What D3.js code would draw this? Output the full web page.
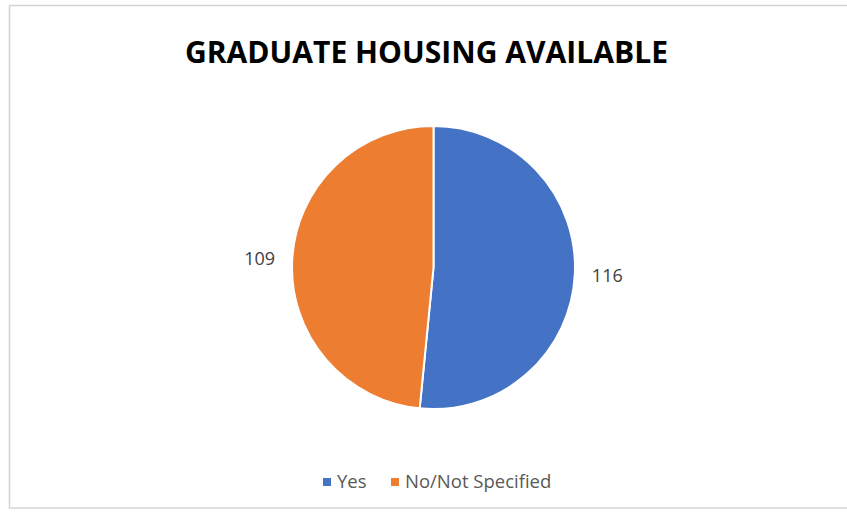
<!DOCTYPE html>
<html><head><meta charset="utf-8">
<script src="https://cdn.jsdelivr.net/npm/d3@7"></script>
<style>body{margin:0;background:#fff;}svg{display:block;}</style>
</head><body>
<svg id="chart" width="847" height="512"></svg>
<script>
const title = "GRADUATE HOUSING AVAILABLE";
const categories = ["Yes", "No/Not Specified"];
const values = [116, 109];
const colors = ["#4472C4", "#ED7D31"];

const svg = d3.select("#chart");
svg.append("rect").attr("x", 9.5).attr("y", 5.5).attr("width", 860).attr("height", 502.5)
  .attr("fill", "#fff").attr("stroke", "#d4d4d4").attr("stroke-width", 1.5);

svg.append("text").attr("x", 426.5).attr("y", 63).attr("text-anchor", "middle")
  .attr("font-family", "'Open Sans', sans-serif").attr("font-weight", 700)
  .attr("font-size", 31).attr("fill", "#000")
  .attr("textLength", 483).attr("lengthAdjust", "spacingAndGlyphs")
  .text(title);

const cx = 433.5, cy = 267.5, r = 141.5;
const pie = d3.pie().sort(null).value(d => d)(values);
const arc = d3.arc().innerRadius(0).outerRadius(r);
const g = svg.append("g").attr("transform", `translate(${cx},${cy})`);
g.selectAll("path").data(pie).join("path")
  .attr("d", arc).attr("fill", (d, i) => colors[i])
  .attr("stroke", "#fff").attr("stroke-width", 2);

const labelArc = d3.arc().innerRadius(174).outerRadius(174);
g.selectAll("text.lbl").data(pie).join("text").attr("class", "lbl")
  .attr("x", d => labelArc.centroid(d)[0])
  .attr("y", d => labelArc.centroid(d)[1])
  .attr("dy", "0.35em").attr("text-anchor", "middle")
  .attr("font-family", "'Open Sans', sans-serif").attr("font-size", 18).attr("fill", "#404040")
  .text(d => d.data);

const legend = svg.append("g").attr("font-family", "'Open Sans', sans-serif").attr("font-size", 18.5).attr("fill", "#595959");
const legX = [323, 391];
categories.forEach((c, i) => {
  legend.append("rect").attr("x", legX[i]).attr("y", 478).attr("width", 8).attr("height", 8).attr("fill", colors[i]);
  legend.append("text").attr("x", legX[i] + 14).attr("y", 487.5).text(c);
});
</script>
</body></html>
